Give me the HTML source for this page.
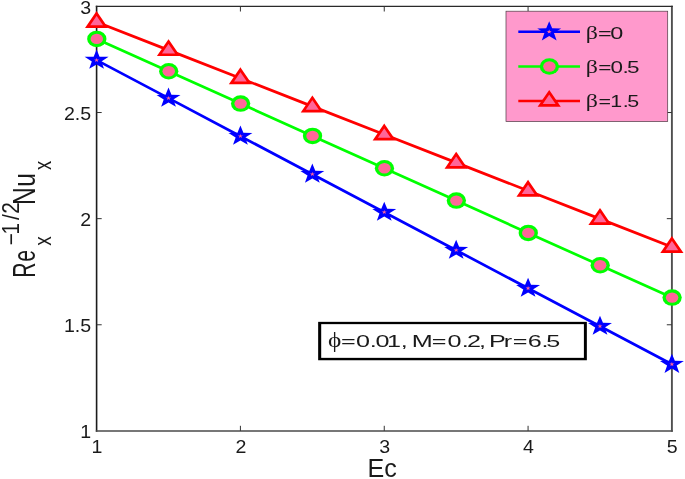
<!DOCTYPE html>
<html><head><meta charset="utf-8"><title>plot</title><style>html,body{margin:0;padding:0;background:#fff}svg{display:block}</style></head><body>
<svg width="685" height="479" viewBox="0 0 685 479" font-family="Liberation Sans, sans-serif" fill="#1a1a1a">
<rect width="685" height="479" fill="#fff"/>
<path d="M96.6 5.7V431.7" stroke="#1c1c1c" stroke-width="1.6" fill="none"/>
<path d="M95.8 431.04999999999995H672.8" stroke="#4a4a4a" stroke-width="1.55" fill="none"/>
<path d="M671.9 5.7V431.7" stroke="#505050" stroke-width="1.9" fill="none"/>
<path d="M95.8 6.4H672.8" stroke="#2a2a2a" stroke-width="1.4" fill="none"/>
<path d="M240.42 430.9v-5.1M240.42 6.4v5.1" stroke="#333" stroke-width="1" fill="none"/>
<path d="M384.25 430.9v-5.1M384.25 6.4v5.1" stroke="#333" stroke-width="1" fill="none"/>
<path d="M528.07 430.9v-5.1M528.07 6.4v5.1" stroke="#333" stroke-width="1" fill="none"/>
<path d="M96.6 324.77h5.1M671.9 324.77h-5.1" stroke="#333" stroke-width="1" fill="none"/>
<path d="M96.6 218.65h5.1M671.9 218.65h-5.1" stroke="#333" stroke-width="1" fill="none"/>
<path d="M96.6 112.53h5.1M671.9 112.53h-5.1" stroke="#333" stroke-width="1" fill="none"/>
<text transform="translate(97.00 452.80) scale(1.12 1)" font-size="17.5" text-anchor="middle" >1</text>
<text transform="translate(240.82 452.80) scale(1.12 1)" font-size="17.5" text-anchor="middle" >2</text>
<text transform="translate(384.65 452.80) scale(1.12 1)" font-size="17.5" text-anchor="middle" >3</text>
<text transform="translate(528.47 452.80) scale(1.12 1)" font-size="17.5" text-anchor="middle" >4</text>
<text transform="translate(672.30 452.80) scale(1.12 1)" font-size="17.5" text-anchor="middle" >5</text>
<text transform="translate(91.20 438.20) scale(1.12 1)" font-size="17.5" text-anchor="end" >1</text>
<text transform="translate(91.20 332.07) scale(1.12 1)" font-size="17.5" text-anchor="end" >1.5</text>
<text transform="translate(91.20 225.95) scale(1.12 1)" font-size="17.5" text-anchor="end" >2</text>
<text transform="translate(91.20 119.83) scale(1.12 1)" font-size="17.5" text-anchor="end" >2.5</text>
<text transform="translate(91.20 13.70) scale(1.12 1)" font-size="17.5" text-anchor="end" >3</text>
<text transform="translate(382.20 477.30) scale(0.98 1)" font-size="25.6" text-anchor="middle" >Ec</text>
<text transform="translate(35.10 275.50) rotate(-90) scale(0.675 1)" font-size="31.5" x="-3.26 20.39" >Re</text>
<text transform="translate(51.20 245.50) rotate(-90) scale(0.795 1)" font-size="24.0" x="-0.29" >x</text>
<text transform="translate(18.70 244.60) rotate(-90) scale(0.893 1)" font-size="23.4" x="-0.73 11.32 27.49 34.54" >−1/2</text>
<text transform="translate(35.10 202.70) rotate(-90) scale(0.781 1)" font-size="31.5" x="-3.06 20.46" >Nu</text>
<text transform="translate(51.20 169.70) rotate(-90) scale(0.760 1)" font-size="24.0" x="-0.29" >x</text>
<polyline points="96.60,60.15 168.51,98.17 240.42,136.19 312.34,174.21 384.25,212.23 456.16,250.24 528.07,288.26 599.99,326.28 671.90,364.30" fill="none" stroke="#0000ff" stroke-width="2.7"/>
<polyline points="96.60,38.90 168.51,71.24 240.42,103.58 312.34,135.91 384.25,168.25 456.16,200.59 528.07,232.93 599.99,265.26 671.90,297.60" fill="none" stroke="#00ff00" stroke-width="2.7"/>
<polyline points="96.60,22.00 168.51,50.12 240.42,78.25 312.34,106.38 384.25,134.50 456.16,162.62 528.07,190.75 599.99,218.88 671.90,247.00" fill="none" stroke="#ff0000" stroke-width="2.7"/>
<polygon points="96.60,49.55 99.56,56.72 108.58,56.87 101.39,61.46 104.01,68.73 96.60,64.39 89.19,68.73 91.81,61.46 84.62,56.87 93.64,56.72" fill="#0000ff"/>
<polygon points="96.60,57.95 97.21,59.44 99.07,59.47 97.59,60.42 98.13,61.93 96.60,61.03 95.07,61.93 95.61,60.42 94.13,59.47 95.99,59.44" fill="#ff6699"/>
<polygon points="168.51,87.57 171.47,94.74 180.50,94.89 173.31,99.48 175.92,106.74 168.51,102.41 161.11,106.74 163.72,99.48 156.53,94.89 165.55,94.74" fill="#0000ff"/>
<polygon points="168.51,95.97 169.12,97.46 170.99,97.49 169.50,98.44 170.04,99.95 168.51,99.05 166.98,99.95 167.52,98.44 166.04,97.49 167.90,97.46" fill="#ff6699"/>
<polygon points="240.42,125.59 243.39,132.76 252.41,132.91 245.22,137.50 247.83,144.76 240.42,140.43 233.02,144.76 235.63,137.50 228.44,132.91 237.46,132.76" fill="#0000ff"/>
<polygon points="240.42,133.99 241.04,135.48 242.90,135.51 241.41,136.46 241.95,137.97 240.42,137.07 238.90,137.97 239.44,136.46 237.95,135.51 239.81,135.48" fill="#ff6699"/>
<polygon points="312.34,163.61 315.30,170.78 324.32,170.93 317.13,175.52 319.74,182.78 312.34,178.45 304.93,182.78 307.54,175.52 300.35,170.93 309.38,170.78" fill="#0000ff"/>
<polygon points="312.34,172.01 312.95,173.49 314.81,173.53 313.33,174.48 313.87,175.99 312.34,175.09 310.81,175.99 311.35,174.48 309.86,173.53 311.73,173.49" fill="#ff6699"/>
<polygon points="384.25,201.63 387.21,208.79 396.23,208.95 389.04,213.54 391.66,220.80 384.25,216.47 376.84,220.80 379.46,213.54 372.27,208.95 381.29,208.79" fill="#0000ff"/>
<polygon points="384.25,210.03 384.86,211.51 386.72,211.55 385.24,212.50 385.78,214.00 384.25,213.11 382.72,214.00 383.26,212.50 381.78,211.55 383.64,211.51" fill="#ff6699"/>
<polygon points="456.16,239.64 459.12,246.81 468.15,246.97 460.96,251.55 463.57,258.82 456.16,254.48 448.76,258.82 451.37,251.55 444.18,246.97 453.20,246.81" fill="#0000ff"/>
<polygon points="456.16,248.04 456.77,249.53 458.64,249.56 457.15,250.52 457.69,252.02 456.16,251.12 454.63,252.02 455.17,250.52 453.69,249.56 455.55,249.53" fill="#ff6699"/>
<polygon points="528.07,277.66 531.04,284.83 540.06,284.99 532.87,289.57 535.48,296.84 528.07,292.50 520.67,296.84 523.28,289.57 516.09,284.99 525.11,284.83" fill="#0000ff"/>
<polygon points="528.07,286.06 528.69,287.55 530.55,287.58 529.06,288.53 529.60,290.04 528.07,289.14 526.55,290.04 527.09,288.53 525.60,287.58 527.46,287.55" fill="#ff6699"/>
<polygon points="599.99,315.68 602.95,322.85 611.97,323.01 604.78,327.59 607.39,334.86 599.99,330.52 592.58,334.86 595.19,327.59 588.00,323.01 597.03,322.85" fill="#0000ff"/>
<polygon points="599.99,324.08 600.60,325.57 602.46,325.60 600.98,326.55 601.52,328.06 599.99,327.16 598.46,328.06 599.00,326.55 597.51,325.60 599.38,325.57" fill="#ff6699"/>
<polygon points="671.90,353.70 674.86,360.87 683.88,361.02 676.69,365.61 679.31,372.88 671.90,368.54 664.49,372.88 667.11,365.61 659.92,361.02 668.94,360.87" fill="#0000ff"/>
<polygon points="671.90,362.10 672.51,363.59 674.37,363.62 672.89,364.57 673.43,366.08 671.90,365.18 670.37,366.08 670.91,364.57 669.43,363.62 671.29,363.59" fill="#ff6699"/>
<ellipse cx="96.80" cy="38.90" rx="9.65" ry="8.25" fill="#00ff00"/>
<ellipse cx="96.80" cy="38.90" rx="6.25" ry="5.15" fill="#ff6699"/>
<ellipse cx="168.71" cy="71.24" rx="9.65" ry="8.25" fill="#00ff00"/>
<ellipse cx="168.71" cy="71.24" rx="6.25" ry="5.15" fill="#ff6699"/>
<ellipse cx="240.62" cy="103.58" rx="9.65" ry="8.25" fill="#00ff00"/>
<ellipse cx="240.62" cy="103.58" rx="6.25" ry="5.15" fill="#ff6699"/>
<ellipse cx="312.54" cy="135.91" rx="9.65" ry="8.25" fill="#00ff00"/>
<ellipse cx="312.54" cy="135.91" rx="6.25" ry="5.15" fill="#ff6699"/>
<ellipse cx="384.45" cy="168.25" rx="9.65" ry="8.25" fill="#00ff00"/>
<ellipse cx="384.45" cy="168.25" rx="6.25" ry="5.15" fill="#ff6699"/>
<ellipse cx="456.36" cy="200.59" rx="9.65" ry="8.25" fill="#00ff00"/>
<ellipse cx="456.36" cy="200.59" rx="6.25" ry="5.15" fill="#ff6699"/>
<ellipse cx="528.27" cy="232.93" rx="9.65" ry="8.25" fill="#00ff00"/>
<ellipse cx="528.27" cy="232.93" rx="6.25" ry="5.15" fill="#ff6699"/>
<ellipse cx="600.19" cy="265.26" rx="9.65" ry="8.25" fill="#00ff00"/>
<ellipse cx="600.19" cy="265.26" rx="6.25" ry="5.15" fill="#ff6699"/>
<ellipse cx="672.10" cy="297.60" rx="9.65" ry="8.25" fill="#00ff00"/>
<ellipse cx="672.10" cy="297.60" rx="6.25" ry="5.15" fill="#ff6699"/>
<polygon points="96.60,13.48 105.63,26.65 87.57,26.65" fill="#ff6699" stroke="#ff0000" stroke-width="2.7" stroke-linejoin="miter" stroke-miterlimit="10"/>
<polygon points="168.51,41.61 177.54,54.77 159.48,54.77" fill="#ff6699" stroke="#ff0000" stroke-width="2.7" stroke-linejoin="miter" stroke-miterlimit="10"/>
<polygon points="240.42,69.73 249.45,82.90 231.39,82.90" fill="#ff6699" stroke="#ff0000" stroke-width="2.7" stroke-linejoin="miter" stroke-miterlimit="10"/>
<polygon points="312.34,97.86 321.37,111.03 303.31,111.03" fill="#ff6699" stroke="#ff0000" stroke-width="2.7" stroke-linejoin="miter" stroke-miterlimit="10"/>
<polygon points="384.25,125.98 393.28,139.15 375.22,139.15" fill="#ff6699" stroke="#ff0000" stroke-width="2.7" stroke-linejoin="miter" stroke-miterlimit="10"/>
<polygon points="456.16,154.10 465.19,167.28 447.13,167.28" fill="#ff6699" stroke="#ff0000" stroke-width="2.7" stroke-linejoin="miter" stroke-miterlimit="10"/>
<polygon points="528.07,182.23 537.10,195.40 519.04,195.40" fill="#ff6699" stroke="#ff0000" stroke-width="2.7" stroke-linejoin="miter" stroke-miterlimit="10"/>
<polygon points="599.99,210.35 609.02,223.53 590.96,223.53" fill="#ff6699" stroke="#ff0000" stroke-width="2.7" stroke-linejoin="miter" stroke-miterlimit="10"/>
<polygon points="671.90,238.48 680.93,251.65 662.87,251.65" fill="#ff6699" stroke="#ff0000" stroke-width="2.7" stroke-linejoin="miter" stroke-miterlimit="10"/>
<rect x="506" y="11.2" width="161.7" height="110.4" fill="#ff99cc" stroke="#4a3a42" stroke-width="0.7"/>
<path d="M518.3 31.8H580" stroke="#0000ff" stroke-width="2.5"/>
<polygon points="549.20,21.20 552.16,28.37 561.18,28.52 553.99,33.11 556.61,40.38 549.20,36.04 541.79,40.38 544.41,33.11 537.22,28.52 546.24,28.37" fill="#0000ff"/>
<polygon points="549.20,29.60 549.81,31.09 551.67,31.12 550.19,32.07 550.73,33.58 549.20,32.68 547.67,33.58 548.21,32.07 546.73,31.12 548.59,31.09" fill="#ff6699"/>
<path d="M518.3 66.5H580" stroke="#00ff00" stroke-width="2.5"/>
<ellipse cx="549.40" cy="66.50" rx="9.65" ry="8.25" fill="#00ff00"/>
<ellipse cx="549.40" cy="66.50" rx="6.25" ry="5.15" fill="#ff6699"/>
<path d="M518.3 101.0H580" stroke="#ff0000" stroke-width="2.5"/>
<polygon points="549.20,92.28 558.23,105.45 540.17,105.45" fill="#ff6699" stroke="#ff0000" stroke-width="2.7" stroke-linejoin="miter" stroke-miterlimit="10"/>
<text transform="translate(585.87 38.50) scale(1.305 1)" font-family="Liberation Serif, serif" font-size="18.3" >β</text><text transform="translate(598.80 38.50) scale(1.412 1)" font-size="16.6" x="-0.60 8.06" >=0</text>
<text transform="translate(585.87 73.00) scale(1.305 1)" font-family="Liberation Serif, serif" font-size="18.3" >β</text><text transform="translate(598.80 73.00) scale(1.355 1)" font-size="16.6" x="-0.42 8.60 17.55 20.76" >=0.5</text>
<text transform="translate(585.87 107.30) scale(1.305 1)" font-family="Liberation Serif, serif" font-size="18.3" >β</text><text transform="translate(598.80 107.30) scale(1.292 1)" font-size="16.6" x="-0.20 8.93 18.51 21.98" >=1.5</text>
<rect x="318.15" y="321.85" width="268.7" height="38.4" fill="#000"/><rect x="321.2" y="324.15" width="262.7" height="33.7" fill="#fff"/>
<text transform="translate(328.04 347.20) scale(1.229 1)" font-family="Liberation Serif, serif" font-size="20.6" >ϕ</text><text transform="translate(341.20 347.20) scale(1.447 1)" font-size="17.4" x="-0.14 10.26 19.73 23.67 31.70 41.16 46.38 48.80 62.54 73.47 83.38 86.87 95.17 100.39 102.14 112.40 118.53 128.87 138.47 141.70" >=0.01, M=0.2, Pr=6.5</text>
</svg>
</body></html>
